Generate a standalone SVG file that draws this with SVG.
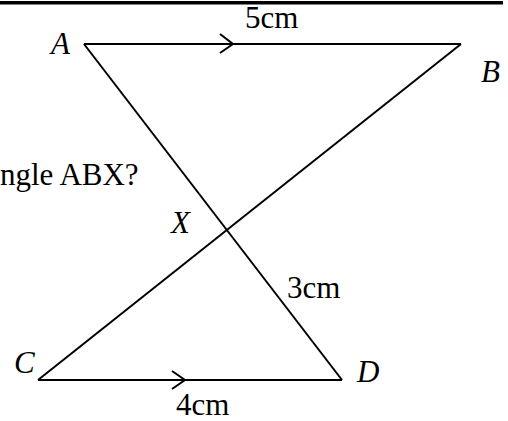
<svg xmlns="http://www.w3.org/2000/svg" width="508" height="421" viewBox="0 0 508 421">
<style>
.ln{stroke:#000;stroke-width:2;fill:none;stroke-linecap:butt}
.t{font-family:"Liberation Serif","Times New Roman",serif;font-size:31px;fill:#000}
.i{font-style:italic}
</style>
<rect width="508" height="421" fill="#fff"/>
<line x1="0" y1="2.8" x2="503" y2="2.8" stroke="#000" stroke-width="3.5"/>
<text class="t" x="0" y="185">ngle ABX?</text>
<g id="connectors">
<line class="ln" x1="84" y1="44" x2="461" y2="44"/>
<line class="ln" x1="84" y1="44" x2="342" y2="380"/>
<line class="ln" x1="461" y1="44" x2="38" y2="380"/>
<line class="ln" x1="38" y1="380" x2="342" y2="380"/>
<polyline class="ln" points="220,34 233,44 220,53"/>
<polyline class="ln" points="172,371 185,380 172,389"/>
</g>
<g id="A"><text class="t i" x="51" y="54" font-size="29">A</text></g>
<g id="B"><text class="t i" x="481" y="82">B</text></g>
<g id="X"><text class="t i" x="171" y="233">X</text></g>
<g id="C"><text class="t i" x="14" y="373">C</text></g>
<g id="D"><text class="t i" x="357" y="382">D</text></g>
<g id="labels">
<text class="t" x="245" y="28">5cm</text>
<text class="t" x="287" y="298">3cm</text>
<text class="t" x="176" y="415">4cm</text>
</g>
</svg>
